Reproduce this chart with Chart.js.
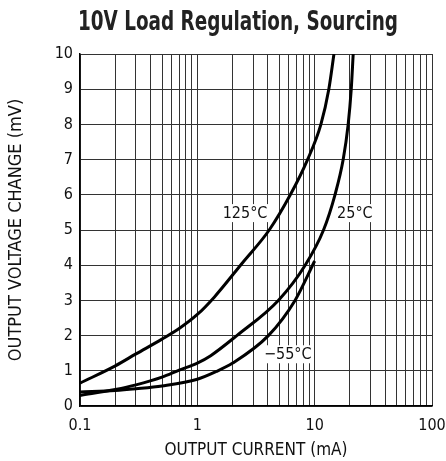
<!DOCTYPE html>
<html>
<head>
<meta charset="utf-8">
<script src="https://cdn.jsdelivr.net/npm/chart.js@4.4.1/dist/chart.umd.min.js"></script>
<style>
  html, body { margin: 0; padding: 0; background: #fff; }
  #wrap { width: 446px; height: 461px; }
</style>
</head>
<body>
<div id="wrap"><canvas id="myChart" width="446" height="461"></canvas></div>
<script>
// values (x = output current mA, y = voltage change mV)
const curr125 = [0.1, 0.2, 0.3, 0.5, 0.7, 1, 1.4, 2.4, 4.1, 6.2, 8.7, 11.3, 13.2, 14.6];
const volt125 = [0.65, 1.14, 1.48, 1.9, 2.2, 2.6, 3.1, 4.05, 5, 6, 7, 8, 9, 10];
const curr25 = [0.1, 0.2, 0.3, 0.5, 0.7, 1, 1.3, 2.17, 4.9, 8.3, 11.9, 14.9, 17.5, 19.3, 20.5, 21.3];
const volt25 = [0.3, 0.47, 0.6, 0.82, 1.02, 1.22, 1.43, 2, 3, 4, 5, 6, 7, 8, 9, 10];
const currM55 = [0.1, 0.2, 0.3, 0.5, 1, 1.45, 2, 4.03, 6.8, 10];
const voltM55 = [0.4, 0.44, 0.49, 0.57, 0.76, 0.98, 1.22, 2, 3, 4.12];

const xLabelTicks = [0.1, 1, 10, 100];
const yTicks = [0, 1, 2, 3, 4, 5, 6, 7, 8, 9, 10];
const curveNames = ['125°C', '25°C', '−55°C'];
// where each curve name sits, in data units
const namePos = [[2.55, 5.48], [22, 5.48], [5.9, 1.47]];

const chartTitle = '10V Load Regulation, Sourcing';
const narrow = '"Liberation Sans Narrow", "DejaVu Sans Condensed", "Roboto", sans-serif';

function pts(xs, ys) {
  return xs.map((x, i) => ({x: x, y: ys[i]}));
}

function curve(label, xs, ys) {
  return {
    label: label,
    data: pts(xs, ys),
    borderColor: '#000',
    borderWidth: 3,
    pointRadius: 0,
    fill: false,
    cubicInterpolationMode: 'monotone'
  };
}

// minor + major log grid 0.1 .. 100
const gridVals = [];
[0.1, 1, 10].forEach(d => {
  for (let m = 1; m < 10; m++) gridVals.push(+(m * d).toPrecision(3));
});
gridVals.push(100);

// condensed bold heading, squeezed to the width of the original
const headingPlugin = {
  id: 'heading',
  afterDraw(chart) {
    const ctx = chart.ctx;
    ctx.save();
    ctx.font = 'bold 27px ' + narrow;
    ctx.fillStyle = '#222';
    ctx.textAlign = 'center';
    ctx.textBaseline = 'middle';
    const w = ctx.measureText(chartTitle).width;
    const sx = Math.min(1, 320 / w);
    ctx.translate(238, 23);
    ctx.scale(sx, 1);
    ctx.fillText(chartTitle, 0, 0);
    ctx.restore();
  }
};

const curveNamesPlugin = {
  id: 'curveNames',
  afterDatasetsDraw(chart) {
    const ctx = chart.ctx;
    const xs = chart.scales.x, ys = chart.scales.y;
    ctx.save();
    ctx.font = '16px ' + narrow;
    ctx.textAlign = 'center';
    ctx.textBaseline = 'middle';
    curveNames.forEach((t, i) => {
      const px = xs.getPixelForValue(namePos[i][0]);
      const py = ys.getPixelForValue(namePos[i][1]);
      const w = ctx.measureText(t).width;
      ctx.fillStyle = '#fff';
      ctx.fillRect(px - w / 2 - 2, py - 9, w + 4, 18);
      ctx.fillStyle = '#111';
      ctx.fillText(t, px, py + 1);
    });
    ctx.restore();
  }
};

const ctx = document.getElementById('myChart').getContext('2d');
new Chart(ctx, {
  type: 'line',
  data: {
    datasets: [
      curve(curveNames[0], curr125, volt125),
      curve(curveNames[1], curr25, volt25),
      curve(curveNames[2], currM55, voltM55)
    ]
  },
  options: {
    responsive: false,
    animation: false,
    devicePixelRatio: 1,
    layout: {padding: {left: 0, right: 0, top: 54, bottom: 0}},
    plugins: {
      legend: {display: false},
      tooltip: {enabled: false},
      title: {display: false}
    },
    scales: {
      x: {
        type: 'logarithmic',
        min: 0.1,
        max: 100,
        afterBuildTicks(scale) {
          scale.ticks = gridVals.map(v => ({value: v}));
        },
        afterFit(scale) {
          scale.height = 55;
          scale.paddingLeft = 0;
          scale.paddingRight = 14;
        },
        ticks: {
          autoSkip: false,
          maxRotation: 0,
          padding: 10,
          color: '#111',
          font: {family: narrow, size: 16},
          callback: v => xLabelTicks.includes(v) ? String(v) : ''
        },
        grid: {color: '#333', lineWidth: 1, drawTicks: false},
        border: {color: '#000', width: 1.5},
        title: {
          display: true,
          text: 'OUTPUT CURRENT (mA)',
          color: '#111',
          font: {family: narrow, size: 17},
          padding: {top: 0, bottom: 0}
        }
      },
      y: {
        type: 'linear',
        min: 0,
        max: 10,
        afterBuildTicks(scale) {
          scale.ticks = yTicks.map(v => ({value: v}));
        },
        afterFit(scale) {
          scale.width = 80;
          scale.paddingTop = 0;
          scale.paddingBottom = 0;
        },
        ticks: {
          padding: 7,
          color: '#111',
          font: {family: narrow, size: 16}
        },
        grid: {color: '#333', lineWidth: 1, drawTicks: false},
        border: {color: '#000', width: 1.5},
        title: {
          display: true,
          text: 'OUTPUT VOLTAGE CHANGE (mV)',
          color: '#111',
          font: {family: narrow, size: 18},
          padding: {top: 6, bottom: 0}
        }
      }
    }
  },
  plugins: [curveNamesPlugin, headingPlugin]
});
</script>
</body>
</html>
